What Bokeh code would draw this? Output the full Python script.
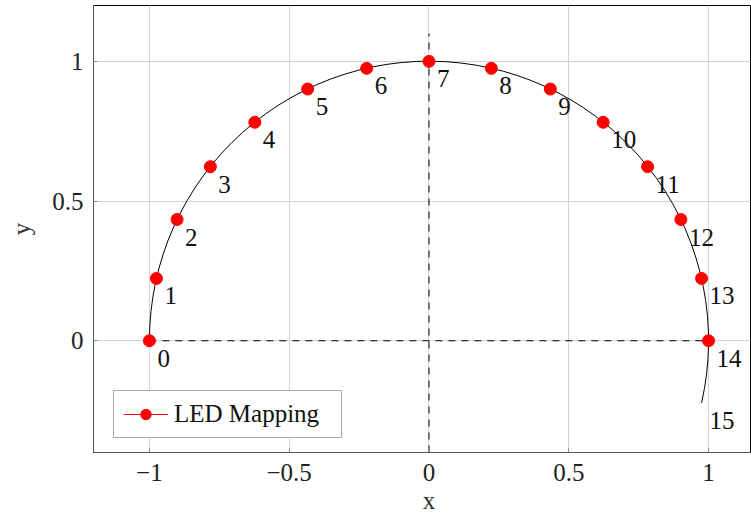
from bokeh.plotting import figure
from bokeh.models import (ColumnDataSource, FixedTicker, Legend, LegendItem, Range1d, Label)
from bokeh.embed import file_html
from bokeh.resources import INLINE

# LED positions around the half ring (index, x, y)
led_index = [0, 1, 2, 3, 4, 5, 6, 7, 8, 9, 10, 11, 12, 13, 14]
led_x = [-1.0, -0.975, -0.901, -0.782, -0.623, -0.434, -0.223, 0.0,
         0.223, 0.434, 0.623, 0.782, 0.901, 0.975, 1.0]
led_y = [0.0, 0.223, 0.434, 0.623, 0.782, 0.901, 0.975, 1.0,
         0.975, 0.901, 0.782, 0.623, 0.434, 0.223, 0.0]

# Label positions (includes the trailing slot 15 beyond the last LED)
label_text = [str(i) for i in range(16)]
label_x = led_x + [0.975]
label_y = led_y + [-0.223]

# Ring arc (degrees) and reference axes
arc_start_deg = -12.857
arc_end_deg = 180.0
h_dash_x = [-1.0, 1.0]
h_dash_y = [0.0, 0.0]
v_dash_x = [0.0, 0.0]
v_dash_y = [-0.4, 1.1]

x_ticks = [-1, -0.5, 0, 0.5, 1]
x_tick_labels = {-1: "\u22121", -0.5: "\u22120.5", 0: "0", 0.5: "0.5", 1: "1"}
y_ticks = [0, 0.5, 1]
y_tick_labels = {0: "0", 0.5: "0.5", 1: "1"}

FONT = "Liberation Serif"
FS = "25px"

p = figure(width=751, height=513, output_backend="svg", toolbar_location=None,
           x_range=Range1d(-1.2, 1.15), y_range=Range1d(-0.4, 1.2),
           min_border_left=93, min_border_right=1, min_border_top=5,
           min_border_bottom=61)

p.background_fill_color = "white"
p.border_fill_color = "white"
p.outline_line_color = "black"
p.outline_line_width = 1

p.grid.grid_line_color = "#d4d4d4"
p.grid.grid_line_width = 1
p.xgrid.ticker = FixedTicker(ticks=x_ticks)
p.ygrid.ticker = FixedTicker(ticks=y_ticks)

for ax, ticks, labels in ((p.xaxis[0], x_ticks, x_tick_labels),
                          (p.yaxis[0], y_ticks, y_tick_labels)):
    ax.ticker = FixedTicker(ticks=ticks)
    ax.major_label_overrides = labels
    ax.axis_label_text_font = FONT
    ax.axis_label_text_font_size = FS
    ax.axis_label_text_font_style = "normal"
    ax.axis_label_text_color = "#333333"
    ax.major_label_text_font = FONT
    ax.major_label_text_font_size = FS
    ax.major_label_text_color = "#222222"
    ax.axis_line_color = "#555555"
    ax.major_tick_in = 4
    ax.major_tick_out = 0
    ax.major_tick_line_color = "#888888"
    ax.minor_tick_line_color = None

p.yaxis.axis_label = "y"
p.xaxis.major_label_standoff = 11
p.yaxis.major_label_standoff = 10
p.yaxis.axis_label_standoff = 14

# x axis title, placed in the lower side panel beneath the tick labels
p.add_layout(Label(x=0, y=-0.4, y_offset=-48, text="x", text_align="center",
                   text_baseline="middle", text_font=FONT, text_font_size=FS,
                   text_color="#333333"), "below")

# Dashed reference axes
p.line(h_dash_x, h_dash_y, line_color="black", line_width=1, line_dash="7 6")
p.line(v_dash_x, v_dash_y, line_color="black", line_width=1, line_dash="7 6")

# Ring
p.arc(x=0, y=0, radius=1, start_angle=arc_start_deg, end_angle=arc_end_deg,
      start_angle_units="deg", end_angle_units="deg",
      line_color="black", line_width=1)

# LEDs; the legend swatch line has no points of its own
src = ColumnDataSource(dict(x=led_x, y=led_y, idx=led_index))
legend_line = p.line(x=[float("nan"), float("nan")], y=[float("nan"), float("nan")],
                     line_color="red", line_width=1)
dots = p.scatter("x", "y", source=src, size=12, fill_color="red", line_color="red")

lbl_src = ColumnDataSource(dict(x=label_x, y=label_y, t=label_text))
p.text("x", "y", text="t", source=lbl_src, text_align="left",
       text_baseline="top", x_offset=8, y_offset=9,
       text_font_size=FS, text_color="#111111",
       text_font={"value": FONT})

legend = Legend(items=[LegendItem(label="LED Mapping", renderers=[legend_line, dots])],
                location=(20, 14), label_text_font=FONT, label_text_font_size=FS,
                label_text_color="#111111", glyph_width=45, glyph_height=26,
                label_height=26, label_width=158, label_standoff=6, padding=9,
                spacing=0, border_line_color="#555555", border_line_width=1,
                background_fill_alpha=1.0, margin=0)
p.add_layout(legend)

open("out.html", "w").write(file_html(p, INLINE))
